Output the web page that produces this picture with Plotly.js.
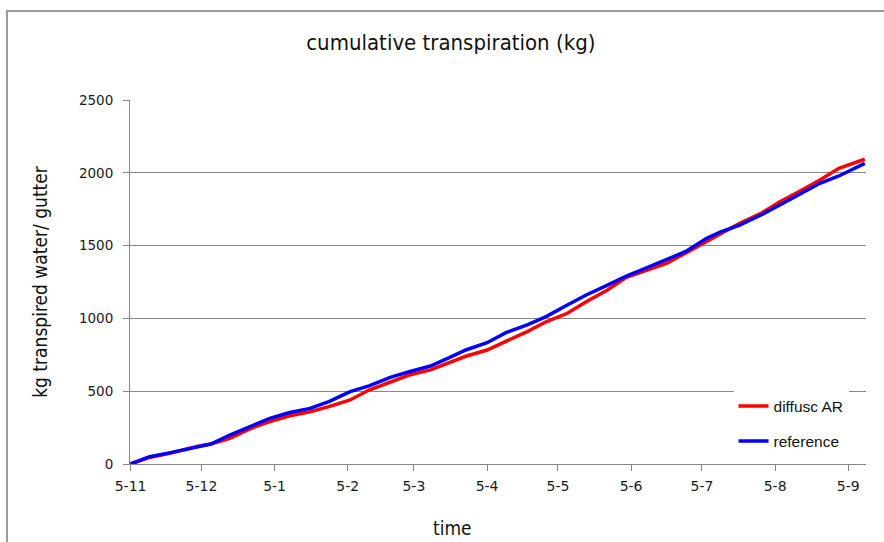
<!DOCTYPE html>
<html>
<head>
<meta charset="utf-8">
<script src="https://cdn.plot.ly/plotly-3.0.1.min.js"></script>
<style>html,body{margin:0;padding:0;background:#fff;}#chart{width:884px;height:542px;}</style>
</head>
<body>
<div id="chart"></div>
<script>
const dates = ["2008-11-05","2008-11-13","2008-11-22","2008-12-04","2008-12-09","2008-12-17","2008-12-26",
  "2009-01-03","2009-01-11","2009-01-20","2009-01-28","2009-02-06","2009-02-14","2009-02-23",
  "2009-03-03","2009-03-12","2009-03-20","2009-03-27","2009-04-05","2009-04-13","2009-04-22","2009-04-30",
  "2009-05-09","2009-05-17","2009-05-26","2009-06-03","2009-06-11","2009-06-20","2009-06-28",
  "2009-07-07","2009-07-13","2009-07-21","2009-07-30","2009-08-07","2009-08-15","2009-08-24",
  "2009-09-01","2009-09-12"];
const diffuseAR = [0,45,76,124,137,176,245,291,330,359,394,440,508,565,611,646,695,740,783,840,909,977,
  1035,1115,1195,1282,1328,1378,1447,1527,1584,1653,1721,1801,1870,1950,2031,2093];
const reference = [0,50,78,124,137,199,261,314,352,382,428,497,536,595,634,673,730,783,833,902,955,1012,
  1092,1161,1229,1291,1344,1401,1458,1550,1595,1641,1710,1779,1848,1928,1978,2065];
const seriesNames = ["diffusc AR","reference"];

const titleFont = "DejaVu Sans Condensed, Liberation Sans Narrow, sans-serif";
const traces = [
  {x: dates, y: diffuseAR, name: seriesNames[0], type: "scatter", mode: "lines",
   line: {color: "#ff0000", width: 3.5}, legendgroup: "a"},
  {x: dates, y: reference, name: seriesNames[1], type: "scatter", mode: "lines",
   line: {color: "#0000ff", width: 3.5}, legendgroup: "b"}
];
const layout = {
  width: 884, height: 542,
  margin: {l: 130, r: 18, t: 100, b: 78},
  paper_bgcolor: "#fff", plot_bgcolor: "#fff",
  title: {text: "cumulative transpiration (kg)", x: 0.51, xanchor: "center", y: 0.922, yref: "container", yanchor: "middle",
    font: {family: titleFont, size: 22, color: "#111"}},
  xaxis: {type: "date", range: ["2008-11-04 18:00", "2009-09-12 12:00"], tick0: "2008-11-05", dtick: "M1",
    tickformat: "%-d-%-m", ticks: "outside", ticklen: 6, tickcolor: "#888", showgrid: false,
    showline: true, linecolor: "#888", linewidth: 1, zeroline: false, ticklabelstandoff: 3,
    tickfont: {family: "DejaVu Sans, sans-serif", size: 14, color: "#1a1a1a"}},
  yaxis: {range: [0, 2500], dtick: 500, ticks: "outside", ticklen: 6, tickcolor: "#888",
    showgrid: true, gridcolor: "#888", gridwidth: 1, showline: true, linecolor: "#888", zeroline: false,
    ticklabelstandoff: 7,
    tickfont: {family: "DejaVu Sans, sans-serif", size: 13.5, color: "#1a1a1a"},
    title: {text: "kg transpired water/ gutter", standoff: 26, font: {family: titleFont, size: 19, color: "#111"}}},
  annotations: [{text: "time", xref: "paper", yref: "paper", x: 0.4375, y: -0.176, xanchor: "center", yanchor: "middle",
    showarrow: false, font: {family: titleFont, size: 19, color: "#111"}}],
  legend: {x: 0.82, y: 0.205, xanchor: "left", yanchor: "top", bgcolor: "#fff", borderwidth: 0,
    traceorder: "grouped", tracegroupgap: 12,
    font: {family: "Liberation Sans, Arial, sans-serif", size: 15.5, color: "#111"}},
  showlegend: true,
  shapes: [{type: "rect", xref: "paper", yref: "paper", x0: -0.1671, x1: 1.04, y0: -0.3, y1: 1.2445,
    line: {color: "#999", width: 2}, fillcolor: "rgba(0,0,0,0)", layer: "below"}]
};
Plotly.newPlot("chart", traces, layout, {displayModeBar: false, staticPlot: true});
</script>
</body>
</html>
